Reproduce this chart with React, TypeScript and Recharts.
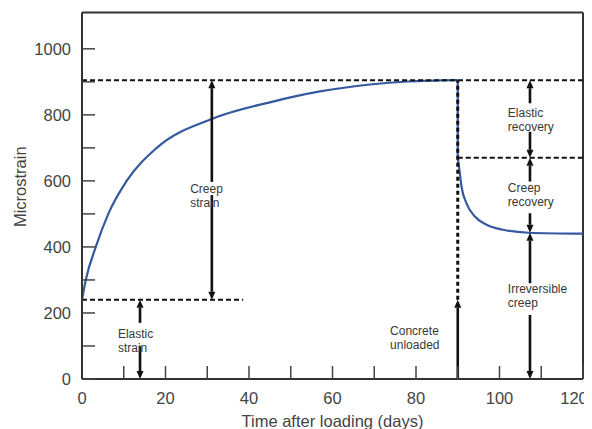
import React from 'react'
import { ComposedChart, Line, XAxis, YAxis, ReferenceLine, ReferenceDot, Label } from 'recharts'

// strain curve while loaded (days, microstrain)
const loadDays = [0, 0.9, 3.3, 6.3, 10.7, 17.9, 31.2, 45, 57, 69, 78, 90]
const loadStrain = [240, 300, 400, 500, 600, 700, 788, 838, 871, 892, 901, 905]

// strain curve after unloading
const unloadDays = [90, 90.4, 90.9, 92.1, 94.1, 96.9, 100.9, 107, 120]
const unloadStrain = [670, 633, 583, 532, 492, 467, 452, 443, 440]

// instant drop when unloaded
const dropDays = [90, 90]
const dropStrain = [905, 670]

const xTicks = [0, 10, 20, 30, 40, 50, 60, 70, 80, 90, 100, 110, 120]
const yTicks = [0, 100, 200, 300, 400, 500, 600, 700, 800, 900, 1000]

const rise = loadDays.map((t, i) => ({ t, v: loadStrain[i] }))
const decay = unloadDays.map((t, i) => ({ t, v: unloadStrain[i] }))
const drop = dropDays.map((t, i) => ({ t, v: dropStrain[i] }))

// dashed guide lines [t1, v1, t2, v2]
const guides = [
    [0, 905, 120, 905],
    [0, 240, 38.6, 240],
    [90, 670, 120, 670],
]

// arrows: from (t, v1) to (t, v2), head at v2
const arrows = [
    [31.1, 597, 905],
    [31.1, 557, 240],
    [13.9, 170, 240],
    [13.9, 99, 0],
    [107.3, 835, 905],
    [107.3, 749, 670],
    [107.3, 598, 670],
    [107.3, 502, 443],
    [107.3, 290, 443],
    [107.3, 194, 0],
    [90, 0, 240],
]

const notes = [
    { t: 25.9, v: 563, lines: ['Creep', 'strain'] },
    { t: 8.6, v: 123, lines: ['Elastic', 'strain'] },
    { t: 102, v: 795, lines: ['Elastic', 'recovery'] },
    { t: 102, v: 566, lines: ['Creep', 'recovery'] },
    { t: 102, v: 261, lines: ['Irreversible', 'creep'] },
    { t: 73.8, v: 133, lines: ['Concrete', 'unloaded'] },
]

const font = '"Liberation Sans", Arial, sans-serif'

const arrowShape = (p: any) => {
    const { x1, y1, x2, y2 } = p
    const dx = x2 - x1
    const dy = y2 - y1
    const len = Math.hypot(dx, dy) || 1
    const ux = dx / len
    const uy = dy / len
    const hl = 8
    const hw = 3.5
    const bx = x2 - ux * hl
    const by = y2 - uy * hl
    return (
        <g>
            <line x1={x1} y1={y1} x2={bx} y2={by} stroke="#111" strokeWidth={2.6} />
            <polygon points={`${x2},${y2} ${bx - uy * hw},${by + ux * hw} ${bx + uy * hw},${by - ux * hw}`} fill="#111" />
        </g>
    )
}

const noteShape = (lines: string[]) => (p: any) => (
    <text x={p.cx} y={p.cy} fontSize={12} fill="#383838" fontFamily={font}>
        {lines.map((s, i) => (
            <tspan key={i} x={p.cx} dy={i === 0 ? 0 : 14}>{s}</tspan>
        ))}
    </text>
)

// x labels every 20 days; the last one is pulled in so it stays on the page
const XTick = (p: any) => {
    const v = p.payload.value
    if (v % 20 !== 0) return <g />
    const shift = v === 120 ? -6 : 0
    return (
        <text x={p.x + shift} y={p.y} dy="0.71em" textAnchor="middle" fontSize={16.5} fill="#444" fontFamily={font}>
            {v}
        </text>
    )
}

function App() {
    return (
        <ComposedChart width={584} height={421} margin={{ top: 4.5, right: 9, left: 2, bottom: 0 }}
            style={{ fontFamily: font }}>
            <XAxis type="number" dataKey="t" domain={[0, 120]} ticks={xTicks} allowDataOverflow
                height={50} tickSize={-13} tickMargin={26} tick={<XTick />}
                axisLine={{ stroke: '#333', strokeWidth: 2 }} tickLine={{ stroke: '#444', strokeWidth: 1.5 }}>
                <Label value="Time after loading (days)" position="insideBottom" offset={2}
                    style={{ fontSize: 16.5, fill: '#444', fontFamily: font }} />
            </XAxis>
            <YAxis type="number" domain={[0, 1110]} ticks={yTicks} allowDataOverflow
                width={72} tickSize={-13} tickMargin={24}
                tickFormatter={(v: number) => (v % 200 === 0 ? String(v) : '')}
                tick={{ fontSize: 16.5, fill: '#444', fontFamily: font }}
                axisLine={{ stroke: '#333', strokeWidth: 2 }} tickLine={{ stroke: '#444', strokeWidth: 1.5 }}>
                <Label value="Microstrain" angle={-90} position="insideLeft" offset={10.5} dy={-9}
                    style={{ fontSize: 16.5, fill: '#444', fontFamily: font, textAnchor: 'middle' }} />
            </YAxis>

            {/* frame top and right */}
            <ReferenceLine y={1110} stroke="#333" strokeWidth={2} />
            <ReferenceLine x={120} stroke="#333" strokeWidth={2} />

            <Line data={rise} dataKey="v" type="monotone" stroke="#34599f" strokeWidth={2.2} dot={false} isAnimationActive={false} />
            <Line data={drop} dataKey="v" type="linear" stroke="#34599f" strokeWidth={2.2} dot={false} isAnimationActive={false} />
            <Line data={decay} dataKey="v" type="monotone" stroke="#34599f" strokeWidth={2.2} dot={false} isAnimationActive={false} />

            {guides.map((g, i) => (
                <ReferenceLine key={'g' + i} segment={[{ x: g[0], y: g[1] }, { x: g[2], y: g[3] }]}
                    stroke="#111" strokeWidth={2} strokeDasharray="5 3" />
            ))}
            <ReferenceLine segment={[{ x: 90, y: 240 }, { x: 90, y: 905 }]} stroke="#111" strokeWidth={3} strokeDasharray="4 3" />

            {arrows.map((a, i) => (
                <ReferenceLine key={'a' + i} segment={[{ x: a[0], y: a[1] }, { x: a[0], y: a[2] }]} shape={arrowShape} />
            ))}

            {notes.map((n, i) => (
                <ReferenceDot key={'n' + i} x={n.t} y={n.v} r={0} shape={noteShape(n.lines)} />
            ))}
        </ComposedChart>
    )
}

export default App
